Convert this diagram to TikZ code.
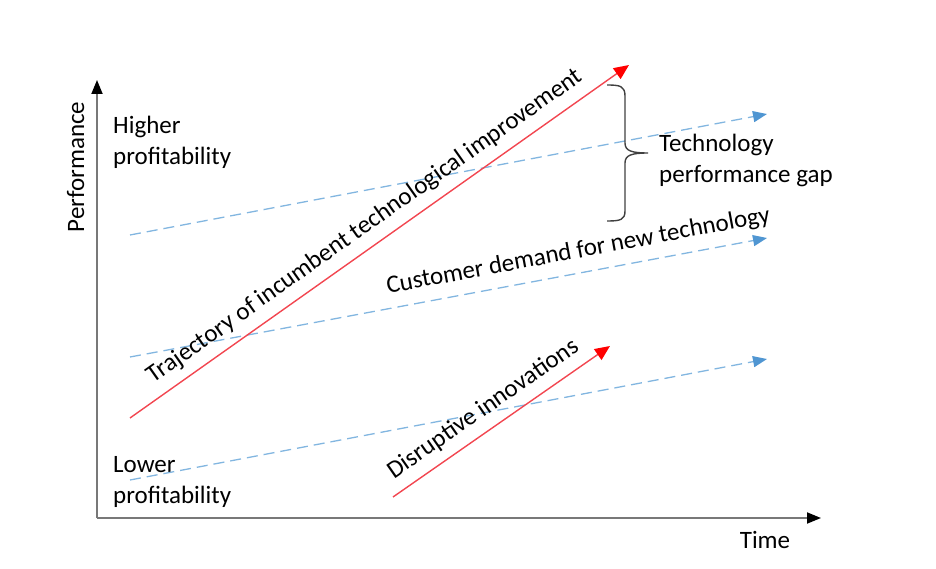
\documentclass[tikz,border=0pt]{standalone}
\usepackage{fontspec}
\setmainfont{Carlito}
\usetikzlibrary{arrows.meta}

\definecolor{demandblue}{RGB}{130,182,224}
\definecolor{tipblue}{RGB}{80,150,210}
\definecolor{trajred}{RGB}{242,70,80}
\definecolor{axisgray}{RGB}{120,120,120}

\begin{document}
\begin{tikzpicture}[
        x=1pt, y=-1pt,
        font=\fontsize{25}{31}\selectfont,
        axis/.style={draw=axisgray, line width=1.8pt,
            -{Triangle[length=14pt,width=11pt,color=black]}},
        demand/.style={draw=demandblue, line width=1.3pt, dash pattern=on 11pt off 6pt,
            -{Triangle[length=14pt,width=11pt,color=tipblue]}},
        trajectory/.style={draw=trajred, line width=1.4pt,
            -{Triangle[length=15pt,width=13pt,color=red]}},
        label/.style={inner sep=0pt, align=left, anchor=base west}
    ]
        \useasboundingbox (0,0) rectangle (936,569);

        % axes
        \coordinate (origin) at (97,518);
        \coordinate (ytip) at (97,80);
        \coordinate (xtip) at (821,518);
        \draw[axis] (origin) -- (ytip);
        \draw[axis] (origin) -- (xtip);
        \node[rotate=90, anchor=base, inner sep=0pt] (perf) at (84,167) {Performance};
        \node[anchor=base, inner sep=0pt] (time) at (765,548) {Time};

        % base anchor sits on the last line
        \node[label] (high) at (113,165) {Higher\\profitability};
        \node[label] (low) at (113,503) {Lower\\profitability};

        % customer demand
        \coordinate (d1s) at (130,235);  \coordinate (d1e) at (767,114);
        \coordinate (d2s) at (130,357);  \coordinate (d2e) at (767,238);
        \coordinate (d3s) at (130,480);  \coordinate (d3e) at (767,359);
        \draw[demand] (d1s) -- (d1e);
        \draw[demand] (d2s) -- node[sloped, above, pos=0.71, inner sep=0pt, yshift=10pt] (demandlbl) {Customer demand for new technology} (d2e);
        \draw[demand] (d3s) -- (d3e);

        % incumbent and disruptive
        \coordinate (incs) at (130,418); \coordinate (ince) at (629,65);
        \coordinate (diss) at (393,497); \coordinate (dise) at (610,346);
        \draw[trajectory] (incs) -- node[sloped, above, pos=0.495, inner sep=0pt, yshift=9pt] (trajlbl) {Trajectory of incumbent technological improvement} (ince);
        \draw[trajectory] (diss) -- node[sloped, above, pos=0.47, inner sep=0pt, yshift=9pt] (disrlbl) {Disruptive innovations} (dise);

        % gap
        \draw[draw=black!75, line width=1.4pt] (607,85) .. controls (620,85) and (625,86) .. (625,96) -- (625,143)
            .. controls (625,151) and (632,153) .. (648,153)
            .. controls (632,153) and (625,155) .. (625,163) -- (625,211)
            .. controls (625,220) and (620,221) .. (607,221);
        \node[label] (gap) at (659,183) {Technology\\performance gap};
    \end{tikzpicture}
\end{document}
